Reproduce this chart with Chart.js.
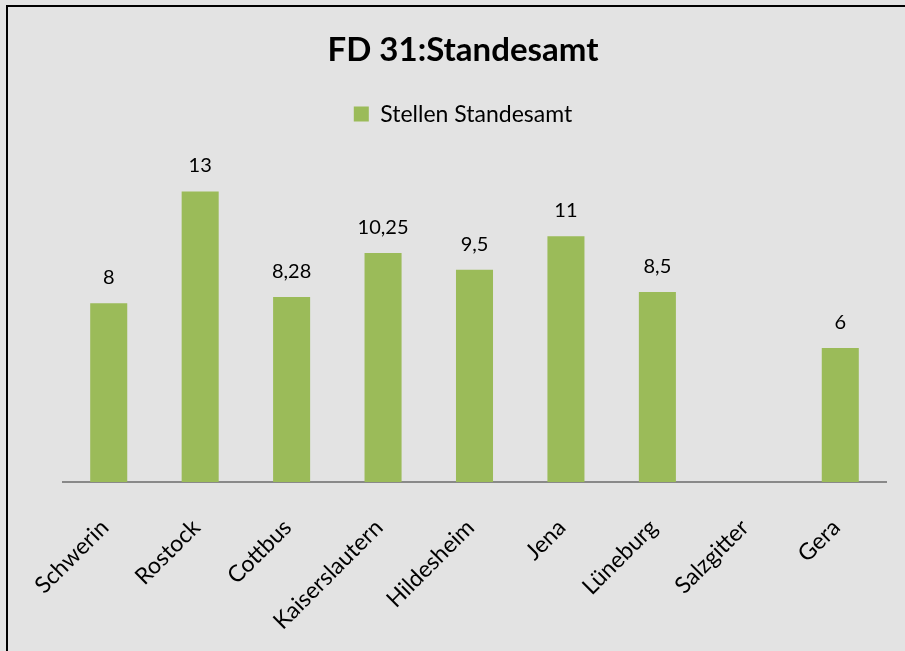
<!DOCTYPE html>
<html>
<head>
<meta charset="utf-8">
<script src="https://cdn.jsdelivr.net/npm/chart.js@4/dist/chart.umd.min.js"></script>
<style>
  html, body { margin: 0; padding: 0; background: #e3e3e3; overflow: hidden; }
  #wrap { width: 905px; height: 651px; position: relative; }
</style>
</head>
<body>
<div id="wrap"><canvas id="c" width="905" height="651"></canvas></div>
<script>
const categories = ["Schwerin", "Rostock", "Cottbus", "Kaiserslautern", "Hildesheim", "Jena", "Lüneburg", "Salzgitter", "Gera"];
const seriesName = "Stellen Standesamt";
const values = [8, 13, 8.28, 10.25, 9.5, 11, 8.5, null, 6];
const chartTitle = "FD 31:Standesamt";

const FONT = "Lato, 'Open Sans', sans-serif";
const GREEN = "#9bbb59";

const frame = {
  id: "frame",
  beforeDraw(chart) {
    const ctx = chart.ctx;
    ctx.save();
    ctx.fillStyle = "#e3e3e3";
    ctx.fillRect(0, 0, chart.width, chart.height);
    ctx.strokeStyle = "#000";
    ctx.lineWidth = 2;
    ctx.beginPath();
    ctx.moveTo(7, chart.height + 5);
    ctx.lineTo(7, 6);
    ctx.lineTo(chart.width + 5, 6);
    ctx.stroke();
    ctx.restore();
  }
};

const dataLabels = {
  id: "dataLabels",
  afterDatasetsDraw(chart) {
    const ctx = chart.ctx;
    ctx.save();
    ctx.font = "20px " + FONT;
    ctx.fillStyle = "#000";
    ctx.textAlign = "center";
    ctx.textBaseline = "alphabetic";
    chart.getDatasetMeta(0).data.forEach((el, i) => {
      const v = chart.data.datasets[0].data[i];
      if (v === null || v === undefined) return;
      const txt = String(v).replace(".", ",");
      ctx.fillText(txt, el.x, el.y - 19);
    });
    ctx.restore();
  }
};

new Chart(document.getElementById("c"), {
  type: "bar",
  data: {
    labels: categories,
    datasets: [{
      label: seriesName,
      data: values,
      backgroundColor: GREEN,
      borderWidth: 0,
      barPercentage: 1,
      categoryPercentage: 0.405
    }]
  },
  options: {
    responsive: false,
    animation: false,
    devicePixelRatio: 1,
    layout: { padding: { left: 40, right: 19, top: 0, bottom: 0 } },
    plugins: {
      title: {
        display: true,
        text: chartTitle,
        color: "#000",
        font: { family: FONT, size: 33, weight: "bold" },
        padding: { top: 31, bottom: 22 }
      },
      legend: {
        display: true,
        labels: {
          color: "#000",
          font: { family: FONT, size: 23 },
          boxWidth: 15,
          boxHeight: 15,
          padding: 10
        }
      },
      tooltip: { enabled: false }
    },
    scales: {
      x: {
        grid: { display: false, drawTicks: false },
        border: { display: true, color: "#898989", width: 2 },
        ticks: {
          color: "#000",
          font: { family: FONT, size: 23 },
          minRotation: 45,
          maxRotation: 45,
          padding: 32,
          labelOffset: -4,
          autoSkip: false
        },
        afterFit(scale) { scale.height = 169; }
      },
      y: {
        display: true,
        min: 0,
        max: 15.5,
        grid: { display: false, drawTicks: false },
        border: { display: false },
        ticks: { display: false },
        afterFit(scale) { scale.width = 23; }
      }
    }
  },
  plugins: [frame, dataLabels]
});
</script>
</body>
</html>
